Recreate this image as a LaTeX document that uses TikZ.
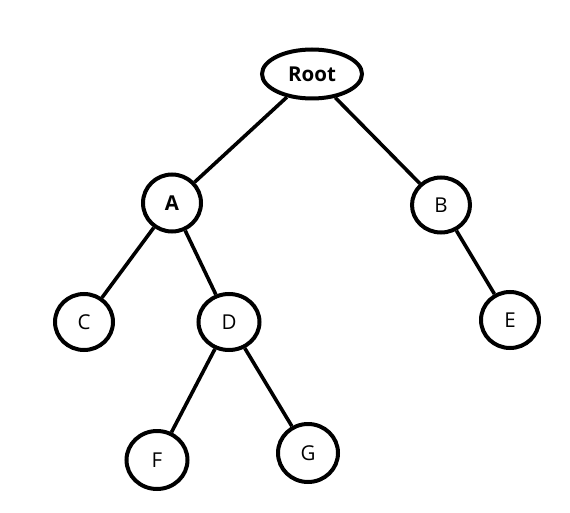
\documentclass[tikz,border=0pt]{standalone}
\usepackage{fontspec}
\setmainfont{Open Sans}
\usetikzlibrary{shapes.geometric}
\begin{document}
\begin{tikzpicture}[x=1pt,y=-1pt,
  treenode/.style={draw=black,line width=4pt,ellipse,minimum width=#1,inner sep=0pt,font=\fontsize{20.5}{24}\selectfont},
  treenode/.default=58pt,
  edge/.style={draw=black,line width=3.6pt}]
\useasboundingbox[fill=white] (0,0) rectangle (570,513);
\node[treenode=100pt,minimum height=49pt,font=\bfseries\fontsize{20.5}{24}\selectfont] (root) at (312,74) {Root};
\node[treenode,minimum height=57pt,font=\bfseries\fontsize{20.5}{24}\selectfont] (A) at (172,203) {A};
\node[treenode,minimum height=55pt] (B) at (441,205) {B};
\node[treenode,minimum height=56pt] (C) at (84,322) {C};
\node[treenode=61pt,minimum height=56pt] (D) at (229,322) {D};
\node[treenode,minimum height=56pt] (E) at (510,320) {E};
\node[treenode=61pt,minimum height=58pt] (F) at (157,460) {F};
\node[treenode=60pt,minimum height=58pt] (G) at (308,453) {G};
\draw[edge] (root) -- (A);
\draw[edge] (root) -- (B);
\draw[edge] (A) -- (C);
\draw[edge] (A) -- (D);
\draw[edge] (B) -- (E);
\draw[edge] (D) -- (F);
\draw[edge] (D) -- (G);
\end{tikzpicture}
\end{document}
